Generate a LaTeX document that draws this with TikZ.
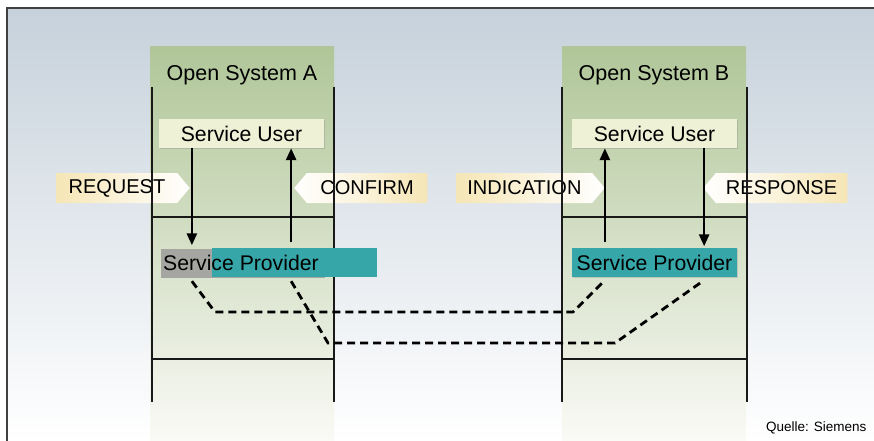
\documentclass[tikz,border=0pt]{standalone}
\usepackage{fontspec}
\setmainfont{Liberation Sans}
\usetikzlibrary{positioning,calc,arrows.meta,shapes.symbols,shadows}
\definecolor{bgblue}{RGB}{198,209,219}
\definecolor{colgreen}{RGB}{176,198,152}
\definecolor{colmid}{RGB}{224,230,208}
\definecolor{colpale}{RGB}{250,250,246}
\definecolor{userfill}{RGB}{238,241,214}
\definecolor{spteal}{RGB}{54,166,168}
\definecolor{spgrey}{RGB}{165,165,162}
\definecolor{lblyellow}{RGB}{246,230,182}

\begin{document}
\begin{tikzpicture}[x=1pt,y=-1pt,
  sysline/.style={line width=2.8pt,black!90},
  ttl/.style={font=\fontsize{21.5}{25}\selectfont},
  usr/.style={fill=userfill,minimum width=165pt,minimum height=29pt,inner sep=0pt,
    font=\fontsize{21.2}{25}\selectfont,
    drop shadow={opacity=0.3,shadow xshift=1.2pt,shadow yshift=-1.2pt}},
  spbox/.style={minimum width=165pt,minimum height=29pt,inner sep=0pt,
    font=\fontsize{21.2}{25}\selectfont},
  lbl/.style={signal,signal pointer angle=100,minimum height=30pt,inner sep=0pt,
    font=\fontsize{20}{23}\selectfont},
  call/.style={line width=2.6pt,-{Triangle[width=10pt,length=12pt]}},
  peer/.style={line width=2.8pt,dash pattern=on 8pt off 5pt}]
 \useasboundingbox (0,0) rectangle (874,441);
 \shade[top color=bgblue,bottom color=white] (7,8) rectangle (874,441);
 \draw[line width=1.5pt,black!75] (7,441) -- (7,8) -- (874,8);
 \foreach \X in {150,562}
  {\shade[top color=colgreen,middle color=colmid,bottom color=colpale]
    (\X,47) rectangle (\X+184,441);}

 \node[ttl] (osA) at (242,75) {Open System A};
 \node[ttl] (osB) at (654,75) {Open System B};

 \node[lbl,signal to=east,minimum width=133pt,anchor=east,
  left color=lblyellow,middle color=lblyellow,right color=white] (req) at (190,188) {REQUEST};
 \node[lbl,signal to=west,minimum width=133pt,anchor=west,
  left color=white,middle color=lblyellow,right color=lblyellow] (conf) at (294,188) {CONFIRM};
 \node[lbl,signal to=east,minimum width=148pt,anchor=east,
  left color=lblyellow,middle color=lblyellow,right color=white] (ind) at (605,188) {INDICATION};
 \node[lbl,signal to=west,minimum width=144pt,anchor=west,
  left color=white,middle color=lblyellow,right color=lblyellow] (resp) at (703,188) {RESPONSE};

 \foreach \X in {152,334,562,747} {\draw[sysline] (\X,87) -- (\X,402);}
 \foreach \Y in {217,359} {\draw[sysline] (152,\Y) -- (334,\Y) (562,\Y) -- (747,\Y);}

 \node[usr] (suA) at (241.5,133.5) {Service User};
 \node[usr] (suB) at (654.5,133.5) {Service User};

 \node[spbox,fill=spgrey,minimum width=164pt,anchor=west] (spA) at (161,263.5) {};
 \node[spbox,fill=spteal,anchor=west] (spAt) at (212,262.5) {};
 \node[spbox,minimum width=0pt,anchor=west] (spAtxt) at (163,263) {Service Provider};
 \node[spbox,fill=spteal,drop shadow={opacity=0.3,shadow xshift=1.2pt,shadow yshift=-1.2pt}]
  (spB) at (654.5,262.5) {Service Provider};

 \coordinate (a1) at ($(suA.south west)!0.2!(suA.south east)$);
 \coordinate (a2) at ($(suA.south west)!0.8!(suA.south east)$);
 \coordinate (b1) at ($(suB.south west)!0.2!(suB.south east)$);
 \coordinate (b2) at ($(suB.south west)!0.8!(suB.south east)$);
 \draw[call] (a1) -- ([yshift=3.5pt]a1 |- spA.north);
 \draw[call] ([yshift=6.5pt]a2 |- spA.north) -- (a2);
 \draw[call] ([yshift=5.5pt]b1 |- spB.north) -- (b1);
 \draw[call] (b2) -- ([yshift=1.5pt]b2 |- spB.north);

 \coordinate (pA1) at (215,312);
 \coordinate (pB1) at (573,312);
 \coordinate (pA2) at (328,343);
 \coordinate (pB2) at (615,343);
 \draw[peer] ([yshift=-3pt]a1 |- spA.south) -- (pA1) -- (pB1) -- ([yshift=-3pt]b1 |- spB.south);
 \draw[peer] ([yshift=-3pt]a2 |- spA.south) -- (pA2) -- (pB2) -- ([yshift=-3pt]b2 |- spB.south);

 \node[anchor=east,font=\fontsize{13.5}{16}\selectfont] (src) at (870,428) {Quelle: Siemens};
\end{tikzpicture}
\end{document}
